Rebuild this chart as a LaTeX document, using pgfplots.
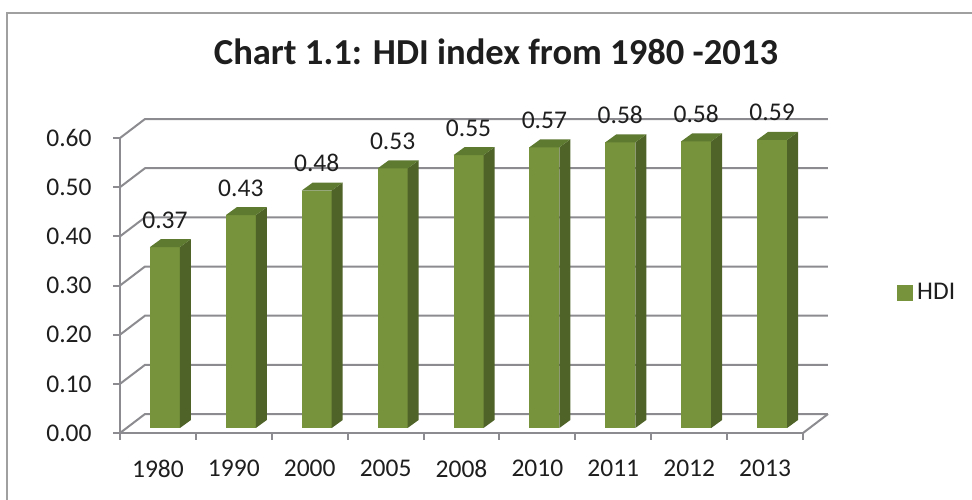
\documentclass[border=0pt]{standalone}
\usepackage{pgfplots}
\pgfplotsset{compat=1.18}
\usepackage{pgfplotstable}
\usepackage{fontspec}
\setmainfont{Carlito}
\definecolor{barfront}{HTML}{77933C}
\definecolor{barside}{HTML}{4F6228}
\definecolor{bartop}{HTML}{5E7A31}
\definecolor{gridc}{HTML}{8C8C90}
\definecolor{framec}{HTML}{A0A0A0}
\definecolor{txt}{HTML}{1E1E1E}

\pgfplotstableread{
idx val lab
0 0.368 0.37
1 0.433 0.43
2 0.483 0.48
3 0.528 0.53
4 0.555 0.55
5 0.571 0.57
6 0.581 0.58
7 0.583 0.58
8 0.586 0.59
}\hditable

\newcommand{\barthreed}[2]{%
 \pgfmathsetmacro{\bxL}{#1+0.395}%
 \pgfmathsetmacro{\bxR}{#1+0.79}%
 \pgfmathsetmacro{\bxRb}{#1+0.935}%
 \pgfmathsetmacro{\bxLb}{#1+0.54}%
 \pgfmathsetmacro{\byT}{#2+0.0102}%
 \pgfmathsetmacro{\byTb}{#2+0.0265}%
 \addplot[fill=barfront, draw=none, forget plot] coordinates {(\bxL,0.0102) (\bxR,0.0102) (\bxR,\byT) (\bxL,\byT)} -- cycle;
 \addplot[fill=barside, draw=none, forget plot] coordinates {(\bxR,0.0102) (\bxRb,0.0265) (\bxRb,\byTb) (\bxR,\byT)} -- cycle;
 \addplot[fill=bartop, draw=none, forget plot] coordinates {(\bxL,\byT) (\bxR,\byT) (\bxRb,\byTb) (\bxLb,\byTb)} -- cycle;
}

\begin{document}
\begin{tikzpicture}
\useasboundingbox (0,0) rectangle (486pt,-249.5pt);
\begin{axis}[
  scale only axis,
  width=341.5pt, height=147.5pt,
  at={(60pt,-216.5pt)}, anchor=south west,
  xmin=0, xmax=9, ymin=0, ymax=0.6,
  clip=false,
  axis x line*=bottom, axis y line*=left,
  axis line style={gridc, line width=1pt, -},
  every tick/.style={gridc, line width=1pt},
  tick align=outside,
  major tick length=3.5pt,
  xtick={0,1,2,3,4,5,6,7,8,9},
  x tick label as interval,
  xticklabels={1980,1990,2000,2005,2008,2010,2011,2012,2013},
  ytick={0,0.1,0.2,0.3,0.4,0.5,0.6},
  yticklabels={0.00,0.10,0.20,0.30,0.40,0.50,0.60},
  ticklabel style={font=\fontsize{12.75}{15}\selectfont, text=txt},
  xticklabel style={inner sep=0pt, anchor=north, yshift=-10pt},
  yticklabel style={inner sep=0pt, anchor=east, xshift=-10.5pt},
  title={Chart 1.1: HDI index from 1980 -2013},
  title style={at={(0.5505,1.244)}, anchor=base, yshift=-5pt, inner sep=0pt, font=\fontsize{18.3}{22}\selectfont\bfseries, text=txt},
  legend style={at={(1.1376,0.4746)}, anchor=west, draw=none, fill=none, inner sep=0pt, font=\fontsize{12.75}{15}\selectfont, text=txt},
  legend image code/.code={\fill[barfront] (0pt,-3.75pt) rectangle (7.5pt,3.75pt);},
]
% back wall gridlines and floor
\addplot[gridc, line width=1pt, forget plot] coordinates {(0,0) (0.329,0.0386) (9.329,0.0386)};
\addplot[gridc, line width=1pt, forget plot] coordinates {(0,0.1) (0.329,0.1386) (9.329,0.1386)};
\addplot[gridc, line width=1pt, forget plot] coordinates {(0,0.2) (0.329,0.2386) (9.329,0.2386)};
\addplot[gridc, line width=1pt, forget plot] coordinates {(0,0.3) (0.329,0.3386) (9.329,0.3386)};
\addplot[gridc, line width=1pt, forget plot] coordinates {(0,0.4) (0.329,0.4386) (9.329,0.4386)};
\addplot[gridc, line width=1pt, forget plot] coordinates {(0,0.5) (0.329,0.5386) (9.329,0.5386)};
\addplot[gridc, line width=1pt, forget plot] coordinates {(0,0.6) (0.329,0.6386) (9.329,0.6386)};
\addplot[gridc, line width=1pt, forget plot] coordinates {(9,0) (9.329,0.0386)};
% bars
\barthreed{0}{0.368}
\barthreed{1}{0.433}
\barthreed{2}{0.483}
\barthreed{3}{0.528}
\barthreed{4}{0.555}
\barthreed{5}{0.571}
\barthreed{6}{0.581}
\barthreed{7}{0.583}
\barthreed{8}{0.586}
% data labels
\addplot[draw=none, mark=none, forget plot, nodes near coords, point meta=explicit symbolic,
  nodes near coords style={anchor=base, inner sep=0pt, font=\fontsize{12.75}{15}\selectfont, text=txt}]
  table[x expr=\thisrow{idx}+0.5925, y expr=\thisrow{val}+0.0489, meta=lab] {\hditable};
\addlegendimage{barfront}
\addlegendentry{HDI}
\end{axis}
\draw[framec, line width=0.75pt] (3.5pt,-260pt) -- (3.5pt,-6.5pt) -- (500pt,-6.5pt);
\end{tikzpicture}
\end{document}
